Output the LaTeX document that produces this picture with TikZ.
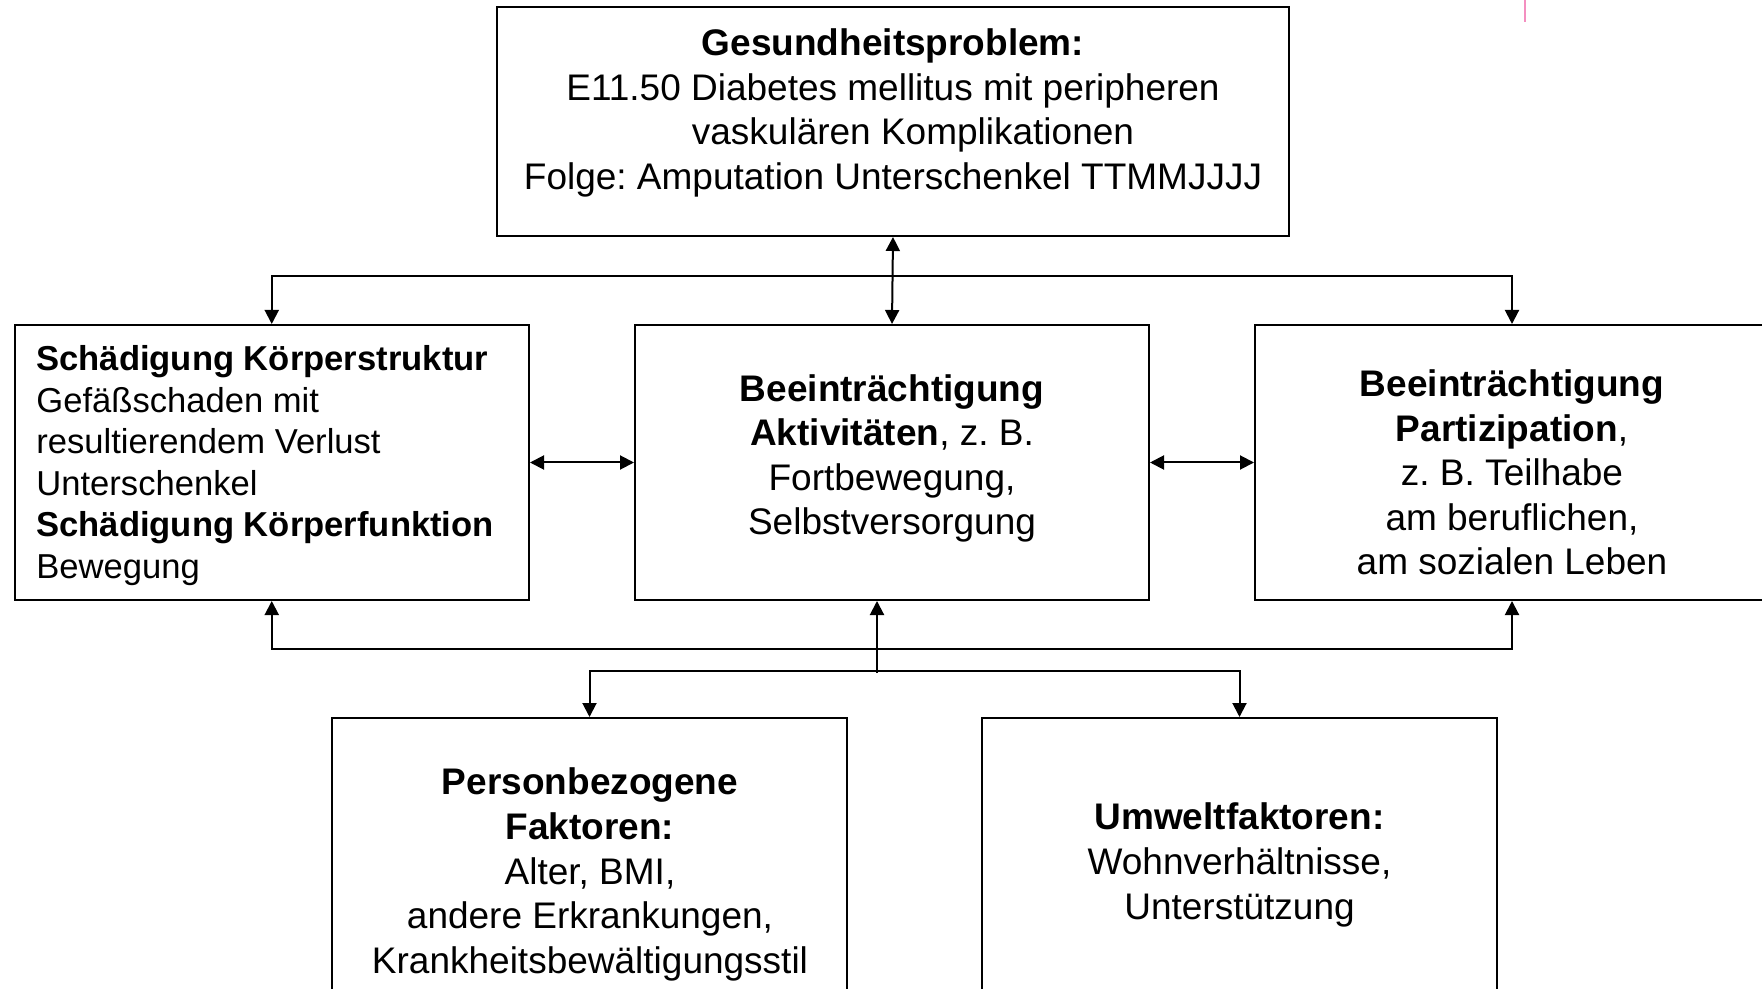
\documentclass[tikz,border=0pt]{standalone}
\usepackage{fontspec}
\setmainfont{Liberation Sans}
\usetikzlibrary{arrows.meta,calc}
\definecolor{pinkmark}{HTML}{F48FC0}
\frenchspacing
\begin{document}
\begin{tikzpicture}[x=0.5pt,y=-0.5pt,
  box/.style={draw,line width=1pt,inner sep=0pt,minimum height=137.5pt,minimum width=257pt},
  txt/.style={inner sep=0pt,font=\fontsize{18.5}{22.3}\selectfont,align=center},
  conn/.style={line width=1pt},
  both/.style={conn,{Triangle[length=7pt,width=7pt]}-{Triangle[length=7pt,width=7pt]}},
  single/.style={conn,-{Triangle[length=7pt,width=7pt]}}]
\useasboundingbox (0,0) rectangle (1762,989);
\clip (0,0) rectangle (1762,989);
\fill[white] (0,0) rectangle (1762,989);
\draw[pinkmark,line width=1pt] (1525,0) -- (1525,22);
% boxes
\node[box,minimum width=396pt,minimum height=114.5pt] (top) at (893,121.5) {};
\node[box,minimum width=257.25pt] (left) at (271.75,462.5) {};
\node[box] (mid) at (892,462.5) {};
\node[box] (right) at (1512,462.5) {};
\node[box,minimum width=257.5pt,minimum height=146pt] (pers) at (589.5,864) {};
\node[box,minimum width=257.5pt,minimum height=146pt] (umw) at (1239.5,864) {};
% texts
\node[txt] (toptxt) at (893,113) {\textbf{Gesundheitsproblem:}\\E11.50 Diabetes mellitus mit peripheren\\\hspace*{20pt}vaskulären Komplikationen\\Folge: Amputation Unterschenkel TTMMJJJJ};
\node[txt,align=left,anchor=west,font=\fontsize{17.3}{20.8}\selectfont] (lefttxt) at (36,465.5) {\textbf{Schädigung Körperstruktur}\\Gefäßschaden mit\\resultierendem Verlust\\Unterschenkel\\\textbf{Schädigung Körperfunktion}\\Bewegung};
\node[txt] (midtxt) at (892,458.5) {\textbf{Beeinträchtigung}\\\textbf{Aktivitäten}, z. B.\\Fortbewegung,\\Selbstversorgung};
\node[txt] (righttxt) at (1512,472.5) {\textbf{Beeinträchtigung}\\\textbf{Partizipation},\\z. B. Teilhabe\\am beruflichen,\\am sozialen Leben};
\node[txt] (perstxt) at (590,874.5) {\textbf{Personbezogene}\\\textbf{Faktoren:}\\Alter, BMI,\\andere Erkrankungen,\\Krankheitsbewältigungsstil};
\node[txt] (umwtxt) at (1239.5,865) {\textbf{Umweltfaktoren:}\\Wohnverhältnisse,\\Unterstützung};
% connectors
\coordinate (busU) at (893,276);
\coordinate (busL) at (893,649);
\coordinate (br) at (877,671);
\coordinate (brlow) at (877,673);
\draw[both] (left.north) -- (busU -| left.north) -- (busU -| right.north) -- (right.north);
\draw[both] (top.south) -- (mid.north);
\draw[both] (left.south) -- (busL -| left.south) -- (busL -| right.south) -- (right.south);
\draw[single] (brlow) -- (brlow |- mid.south);
\draw[both] (pers.north) -- (br -| pers.north) -- (br -| umw.north) -- (umw.north);
\draw[both] (left.east) -- (mid.west);
\draw[both] (mid.east) -- (right.west);
\end{tikzpicture}
\end{document}
